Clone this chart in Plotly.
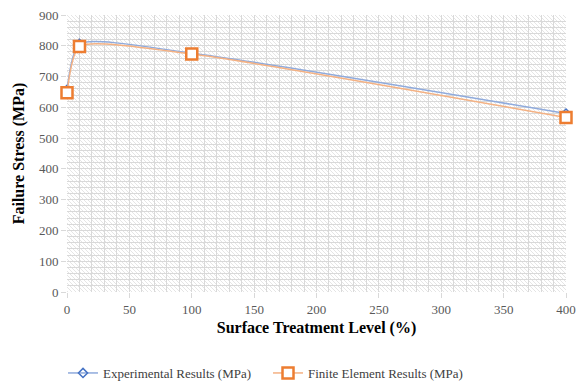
import base64
import plotly.graph_objects as go

# Data
treatment = [0, 10, 100, 400]
experimental = [657, 806, 776, 580]
finite_element = [647, 798, 773, 567]

x_ticks = [0, 50, 100, 150, 200, 250, 300, 350, 400]
y_ticks = [0, 100, 200, 300, 400, 500, 600, 700, 800, 900]
X_RANGE = [0, 400]
Y_RANGE = [0, 900]

FONT = "Liberation Serif, Times New Roman, serif"
BLUE = "#4472C4"
BLUE_LINE = "#8FAADC"
ORANGE = "#ED7D31"
ORANGE_LINE = "#F4B183"
GRID = "#d9d9d9"
TICK = "#595959"

W, H = 576, 382
ML, MR, MT, MB = 67, 10, 15, 90
PW, PH = W - ML - MR, H - MT - MB

# Hatched plot-area background as an SVG pattern image (sits below the grid)
svg = (
    f'<svg xmlns="http://www.w3.org/2000/svg" width="{PW}" height="{PH}">'
    '<defs><pattern id="h" patternUnits="userSpaceOnUse" width="4" height="4">'
    '<path d="M-1,-1 L5,5 M3,-1 L5,1 M-1,3 L1,5" stroke="#e5e5e5" stroke-width="1"/>'
    '</pattern></defs>'
    f'<rect width="{PW}" height="{PH}" fill="white"/>'
    f'<rect width="{PW}" height="{PH}" fill="url(#h)"/></svg>'
)
hatch_src = "data:image/svg+xml;base64," + base64.b64encode(svg.encode()).decode()

fig = go.Figure()

fig.add_trace(go.Scatter(
    x=treatment, y=experimental, name="Experimental Results (MPa)",
    mode="lines+markers", cliponaxis=False,
    line=dict(color=BLUE_LINE, width=1.5, shape="spline", smoothing=0.6),
    marker=dict(symbol="diamond-open", size=7, color=BLUE, line=dict(width=1.5, color=BLUE)),
))
fig.add_trace(go.Scatter(
    x=treatment, y=finite_element, name="Finite Element Results (MPa)",
    mode="lines+markers", cliponaxis=False,
    line=dict(color=ORANGE_LINE, width=1.5, shape="spline", smoothing=0.6),
    marker=dict(symbol="square", size=11, color="white", line=dict(width=2.5, color=ORANGE)),
))

fig.add_layout_image(dict(
    source=hatch_src, xref="x", yref="y",
    x=X_RANGE[0], y=Y_RANGE[1], sizex=X_RANGE[1] - X_RANGE[0], sizey=Y_RANGE[1] - Y_RANGE[0],
    xanchor="left", yanchor="top", sizing="stretch", layer="below",
))

fig.update_layout(
    width=W, height=H,
    margin=dict(l=ML, r=MR, t=MT, b=MB, autoexpand=False),
    paper_bgcolor="white", plot_bgcolor="rgba(0,0,0,0)",
    font=dict(family=FONT, color=TICK, size=13),
    legend=dict(orientation="h", x=-0.008, xanchor="left",
                y=-(373 - (H - MB)) / PH, yanchor="middle",
                font=dict(family=FONT, size=13, color="#404040"),
                itemwidth=30, tracegroupgap=0, entrywidth=160),
    xaxis=dict(
        range=X_RANGE, tickvals=x_ticks, showgrid=True, gridcolor=GRID, gridwidth=1,
        minor=dict(dtick=10, showgrid=True, gridcolor=GRID, gridwidth=1),
        ticks="outside", ticklen=5, tickcolor=GRID, zeroline=False, showline=False,
        automargin=False,
        tickfont=dict(family=FONT, size=13, color=TICK),
        title=dict(text="<b>Surface Treatment Level (%)</b>",
                   font=dict(family=FONT, size=16, color="#000000"), standoff=6),
    ),
    yaxis=dict(
        range=Y_RANGE, tickvals=y_ticks, showgrid=True, gridcolor=GRID, gridwidth=1,
        minor=dict(dtick=20, showgrid=True, gridcolor=GRID, gridwidth=1),
        ticks="outside", ticklen=5, tickcolor=GRID, zeroline=False, showline=False,
        automargin=False,
        tickfont=dict(family=FONT, size=13, color=TICK),
        title=dict(text="<b>Failure Stress (MPa)</b>",
                   font=dict(family=FONT, size=16, color="#000000"), standoff=10),
    ),
)

fig.write_html("out.html")
